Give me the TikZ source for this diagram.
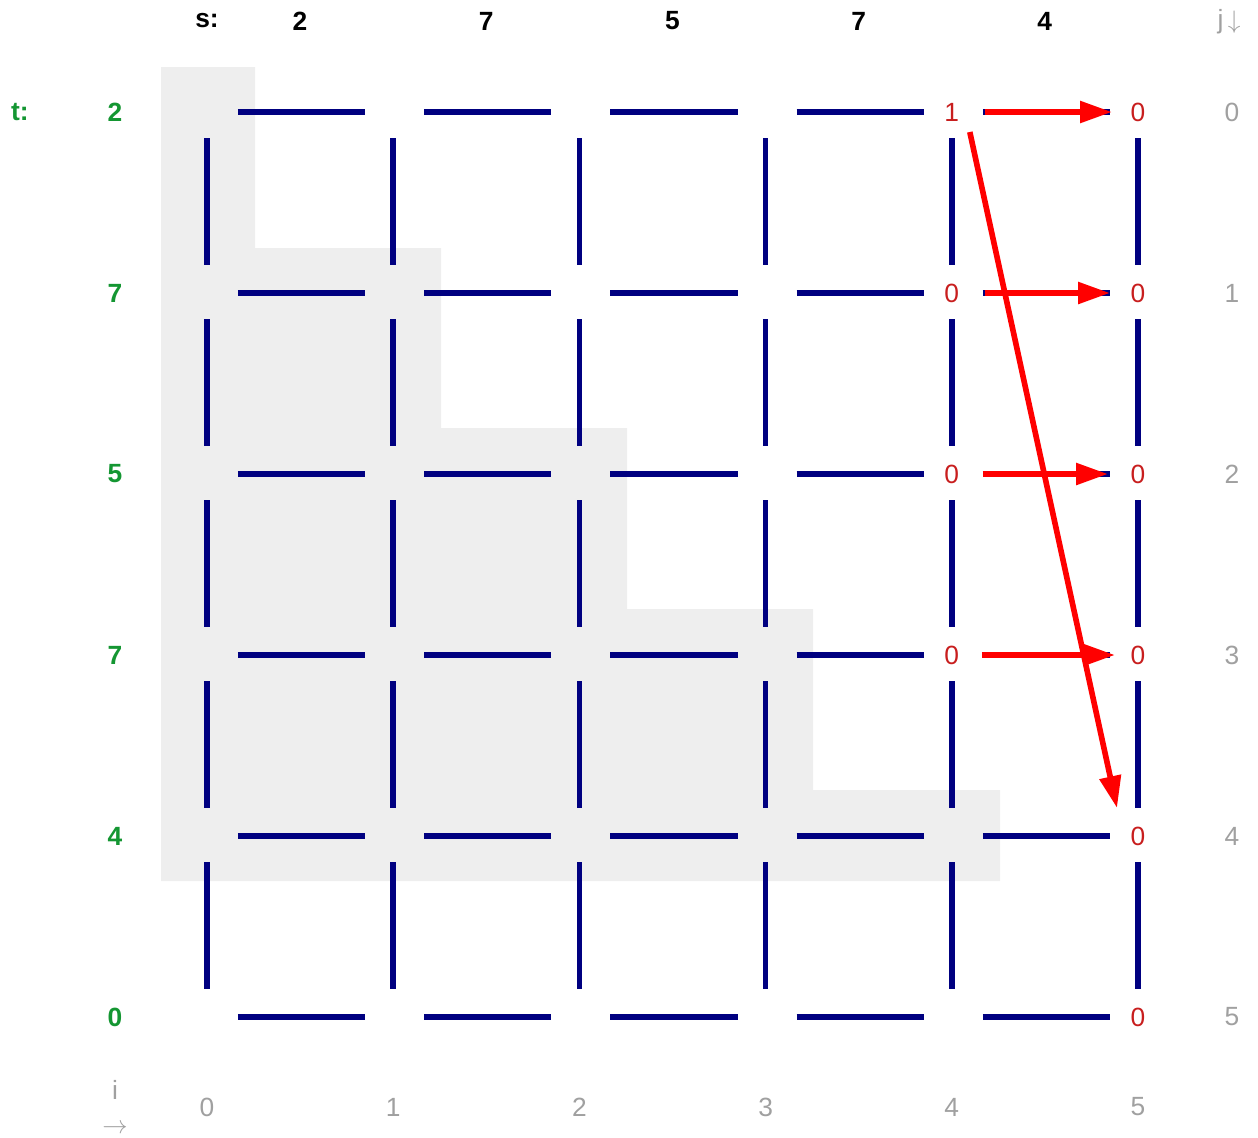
\documentclass[tikz,border=0pt]{standalone}
\usepackage{fontspec}
\setmainfont{Liberation Sans}
\usetikzlibrary{arrows.meta,calc}
\definecolor{latBlue} {RGB}{0,    0, 128}
\definecolor{latRed}  {RGB}{200,  30,  30}
\definecolor{latGreen}{RGB}{20,  150,  50}
\definecolor{latGray} {RGB}{160, 160, 160}
\definecolor{latShade}{RGB}{238, 238, 238}

\begin{document}
\begin{tikzpicture}[x=0.02cm,y=-0.02cm,
    hseg/.style={latBlue,line width=3.2pt,shorten <=0.62cm,shorten >=0.56cm},
    vseg/.style={latBlue,line width=3.2pt,shorten <=0.52cm,shorten >=0.56cm},
    hop/.style={-{Triangle[length=0.64cm,width=0.42cm]},red,line width=3.2pt},
    seqlbl/.style={font=\bfseries\fontsize{15}{18}\selectfont},
    idxlbl/.style={font=\fontsize{15}{18}\selectfont,latGray},
    val/.style={font=\fontsize{15}{18}\selectfont,latRed,inner sep=1pt}]

    \useasboundingbox (0,0) rectangle (1258,1137);

    % ── pontos da grade ───────────────────────────────────
    \foreach \i in {0,...,5}
      \foreach \j in {0,...,5}
        \coordinate (p\i\j) at ({207+186.2*\i},{112+181*\j});

    % ── escada sombreada ──────────────────────────────────
    \fill[latShade] (161,67) -| (255,248) -| (441,428) -| (627,609)
      -| (813,790) -| (1000,881) -- (161,881) -- cycle;

    % ── arestas ───────────────────────────────────────────
    \foreach \j in {0,...,5}
      \foreach \a/\b in {0/1,1/2,2/3,3/4,4/5}
        \draw[hseg] (p\a\j) -- (p\b\j);
    \foreach \i in {0,...,5}
      \foreach \a/\b in {0/1,1/2,2/3,3/4,4/5}
        \draw[vseg] (p\i\a) -- (p\i\b);

    % ── sequências s e t ──────────────────────────────────
    \node[seqlbl] (slbl) at (207,21) {s:};
    \foreach \v [count=\c from 0] in {2,7,5,7,4}
      \node[seqlbl] (s\c) at ({300+186.2*\c},21) {\v};
    \node[seqlbl,latGreen] (tlbl) at (20,112) {t:};
    \foreach \v [count=\c from 0] in {2,7,5,7,4,0}
      \node[seqlbl,latGreen] (t\c) at (115,{112+181*\c}) {\v};

    % ── índices ───────────────────────────────────────────
    \node[idxlbl] (jlbl) at (1229,22) {j\,$\downarrow$};
    \foreach \c in {0,...,5}
      \node[idxlbl] (j\c) at (1232,{112+181*\c}) {\c};
    \node[idxlbl,align=center,inner sep=0pt] (ilbl) at (115,1107)
      {i\\[1pt]$\rightarrow$};
    \foreach \c in {0,...,5}
      \node[idxlbl] (i\c) at ({207+186.2*\c},1107) {\c};

    % ── valores ───────────────────────────────────────────
    \node[val] (v40) at (p40) {1};
    \foreach \j in {1,2,3}
      \node[val] (v4\j) at (p4\j) {0};
    \foreach \j in {0,...,5}
      \node[val] (v5\j) at (p5\j) {0};

    % ── setas vermelhas ───────────────────────────────────
    \draw[hop] ($(v40)+(33,0)$) -- ($(v50)+(-26,0)$);
    \draw[hop] ($(v41)+(33,0)$) -- ($(v51)+(-28,0)$);
    \draw[hop] ($(v42)+(31,0)$) -- ($(v52)+(-30,0)$);
    \draw[hop] ($(v43)+(30,0)$) -- ($(v53)+(-23,0)$);
    \draw[hop] ($(v40)+(18,20)$) -- ($(v54)+(-21,-28)$);

  \end{tikzpicture}
\end{document}
